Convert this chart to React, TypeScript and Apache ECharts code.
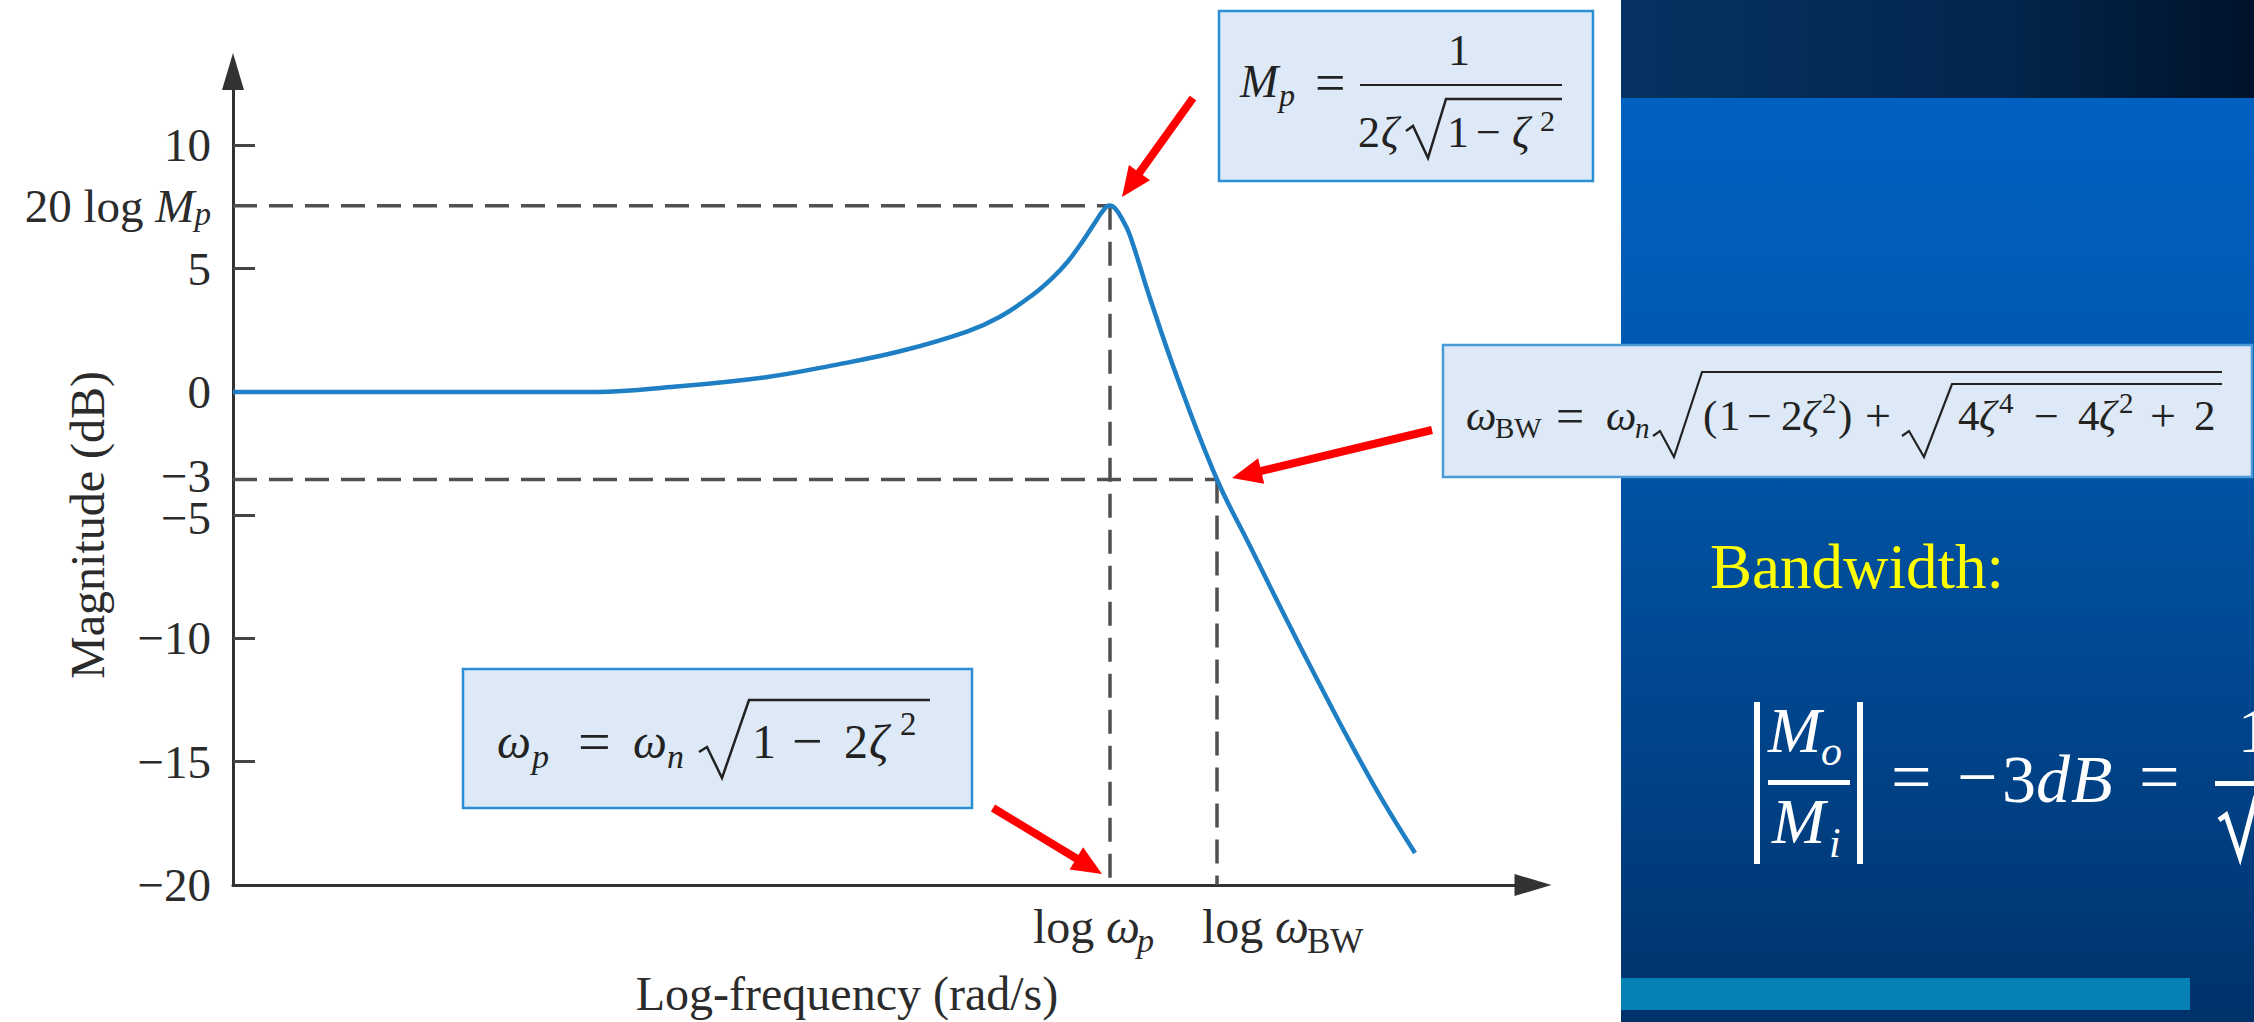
import React, { useEffect, useRef } from 'react';
import * as echarts from 'echarts';

const SERIF = "'Liberation Serif', 'Times New Roman', serif";

// ---- data ----
const LOG_FREQ = [0, 3.63, 4.43, 5.33, 6.0, 6.67, 7.34, 7.67, 8.0, 8.2, 8.34, 8.46, 8.56, 8.64, 8.7, 8.76, 8.82, 8.9, 8.97, 9.17, 9.45, 9.84, 10.17, 10.5, 10.84, 11.17, 11.5, 11.82];
const MAGNITUDE_DB = [0, 0, 0.22, 0.6, 1.08, 1.65, 2.45, 3.05, 3.95, 4.65, 5.25, 5.9, 6.5, 7.0, 7.35, 7.56, 7.45, 6.95, 6.35, 3.8, 0.5, -3.55, -6.25, -8.95, -11.65, -14.2, -16.6, -18.7];
const Y_TICKS = [-15, -10, -5, 0, 5, 10];
const Y_TICK_LABELS = [-20, -15, -10, -5, 0, 5, 10];
const PEAK_DB = 7.55; // level of 20 log Mp
const BW_DB = -3.55; // level of the drawn "-3" line
const BW_LABEL = -3;
const LOG_WP = 8.77;
const LOG_WBW = 9.84;
const X_MIN = 0;
const X_MAX = 13;
const Y_MIN = -20;
const Y_MAX = 13;

const near = (a: number, b: number) => Math.abs(a - b) < 1e-6;
const minus = (v: number) => (v < 0 ? '\u2212' + Math.abs(v) : String(v));

// text placed by baseline
const T = (text: string, x: number, base: number, size: number, italic = false, fill = '#222', scaleX = 1) => ({
  type: 'text',
  x,
  y: base - 0.34 * size,
  scaleX,
  z: 30,
  style: {
    text,
    fontSize: size,
    fontFamily: SERIF,
    fontStyle: italic ? 'italic' : 'normal',
    fill,
    align: 'left',
    verticalAlign: 'middle',
  },
});
const PL = (points: number[][], w = 2, stroke = '#222') => ({
  type: 'polyline',
  z: 30,
  shape: { points },
  style: { stroke, lineWidth: w, fill: null, lineJoin: 'miter' },
});
const R = (x: number, y: number, width: number, height: number, fill: any, stroke?: string, lw = 0, z = 10) => ({
  type: 'rect',
  z,
  shape: { x, y, width, height },
  style: stroke ? { fill, stroke, lineWidth: lw } : { fill },
});
const arrow = (x1: number, y1: number, x2: number, y2: number) => {
  const dx = x2 - x1;
  const dy = y2 - y1;
  const L = Math.hypot(dx, dy);
  const ux = dx / L;
  const uy = dy / L;
  const hl = 30;
  const hw = 13;
  const bx = x2 - ux * hl;
  const by = y2 - uy * hl;
  return [
    { type: 'line', z: 40, shape: { x1, y1, x2: bx + ux * 4, y2: by + uy * 4 }, style: { stroke: '#ff0000', lineWidth: 8 } },
    {
      type: 'polygon',
      z: 40,
      shape: { points: [[x2, y2], [bx - uy * hw, by + ux * hw], [bx + uy * hw, by - ux * hw]] },
      style: { fill: '#ff0000' },
    },
  ];
};

const BOX_FILL = '#dde9f6';
const BOX_STROKE = '#2b8fd6';
const LABEL = '#2b2b2b';

function buildGraphic(xp: number, xb: number) {
  const els: any[] = [];
  // right slide panel
  els.push(
    R(1621, 0, 633, 98, {
      type: 'linear', x: 0, y: 0, x2: 1, y2: 0,
      colorStops: [{ offset: 0, color: '#053262' }, { offset: 0.6, color: '#02264d' }, { offset: 1, color: '#00122a' }],
    }, undefined, 0, 1),
  );
  els.push(
    R(1621, 98, 633, 924, {
      type: 'linear', x: 0, y: 0, x2: 0, y2: 1,
      colorStops: [
        { offset: 0, color: '#0061c1' },
        { offset: 0.3, color: '#0058af' },
        { offset: 0.55, color: '#004b97' },
        { offset: 0.8, color: '#003e80' },
        { offset: 1, color: '#00316a' },
      ],
    }, undefined, 0, 1),
  );
  els.push(R(1621, 978, 569, 32, '#0780b5', undefined, 0, 2));

  // Bandwidth text & formula
  els.push(T('Bandwidth:', 1710, 588, 63, false, '#ffff00'));
  els.push(R(1754, 702, 6, 162, '#ffffff', undefined, 0, 30));
  els.push(R(1857, 702, 6, 162, '#ffffff', undefined, 0, 30));
  els.push(T('M', 1768, 752, 64, true, '#ffffff'));
  els.push(T('o', 1821, 765, 42, true, '#ffffff'));
  els.push(R(1768, 780, 82, 5, '#ffffff', undefined, 0, 30));
  els.push(T('M', 1772, 843, 64, true, '#ffffff'));
  els.push(T('i', 1829, 857, 42, true, '#ffffff'));
  els.push(T('=', 1891, 801, 72, false, '#ffffff'));
  els.push(T('\u2212', 1957, 801, 72, false, '#ffffff'));
  els.push(T('3', 2002, 802, 68, false, '#ffffff'));
  els.push(T('d', 2036, 802, 68, true, '#ffffff'));
  els.push(T('B', 2071, 802, 68, true, '#ffffff'));
  els.push(T('=', 2139, 801, 72, false, '#ffffff'));
  els.push(R(2215, 781, 39, 5, '#ffffff', undefined, 0, 30));
  els.push(T('1', 2238, 752, 64, false, '#ffffff'));
  els.push(PL([[2219, 820], [2226, 815], [2240, 857], [2256, 796]], 5, '#ffffff'));

  // Mp box
  els.push(R(1219, 11, 374, 170, BOX_FILL, BOX_STROKE, 2.5));
  els.push(T('M', 1240, 97, 46, true));
  els.push(T('p', 1279, 106, 32, true));
  els.push(T('=', 1315, 101, 54));
  els.push(T('1', 1448, 65, 44));
  els.push({ type: 'line', z: 30, shape: { x1: 1360, y1: 85, x2: 1562, y2: 85 }, style: { stroke: '#222', lineWidth: 2.2 } });
  els.push(T('2', 1358, 147, 44));
  els.push(T('\u03b6', 1381, 147, 44, true));
  els.push(PL([[1406, 131], [1413, 126], [1428, 158], [1446, 99], [1562, 99]], 2.5));
  els.push(T('1', 1447, 147, 44));
  els.push(T('\u2212', 1476, 147, 44));
  els.push(T('\u03b6', 1512, 147, 44, true));
  els.push(T('2', 1540, 131, 30));

  // omega_BW box
  els.push(R(1443, 345, 809, 132, BOX_FILL, '#4a9ad8', 2.5));
  els.push(T('\u03c9', 1466, 430, 43, true));
  els.push(T('BW', 1495, 438, 29));
  els.push(T('=', 1556, 433, 50));
  els.push(T('\u03c9', 1606, 430, 43, true));
  els.push(T('n', 1635, 438, 29, true));
  els.push(PL([[1653, 436], [1660, 431], [1674, 457], [1702, 372], [2222, 372]], 2.2));
  els.push(T('(', 1703, 430, 43));
  els.push(T('1', 1719, 430, 43));
  els.push(T('\u2212', 1747, 431, 44));
  els.push(T('2', 1781, 430, 43));
  els.push(T('\u03b6', 1802, 430, 43, true));
  els.push(T('2', 1822, 413, 29));
  els.push(T(')', 1838, 430, 43));
  els.push(T('+', 1865, 431, 46));
  els.push(PL([[1902, 436], [1909, 431], [1924, 457], [1952, 384], [2222, 384]], 2.2));
  els.push(T('4', 1958, 430, 43));
  els.push(T('\u03b6', 1979, 430, 43, true));
  els.push(T('4', 1999, 413, 29));
  els.push(T('\u2212', 2034, 431, 44));
  els.push(T('4', 2078, 430, 43));
  els.push(T('\u03b6', 2099, 430, 43, true));
  els.push(T('2', 2119, 413, 29));
  els.push(T('+', 2150, 431, 46));
  els.push(T('2', 2194, 430, 43));

  // omega_p box
  els.push(R(463, 669, 509, 139, BOX_FILL, BOX_STROKE, 2.5));
  els.push(T('\u03c9', 497, 758, 48, true));
  els.push(T('p', 532, 768, 34, true));
  els.push(T('=', 578, 761, 58));
  els.push(T('\u03c9', 633, 758, 48, true));
  els.push(T('n', 667, 768, 34, true));
  els.push(PL([[699, 752], [707, 747], [722, 778], [749, 700], [930, 700]], 2.5));
  els.push(T('1', 752, 758, 48));
  els.push(T('\u2212', 792, 759, 54));
  els.push(T('2', 844, 758, 48));
  els.push(T('\u03b6', 869, 758, 48, true));
  els.push(T('2', 900, 735, 33));

  // x axis labels at the two marked frequencies
  els.push(T('log ', xp - 77, 943, 48, false, LABEL));
  els.push(T('\u03c9', xp - 4, 943, 48, true, LABEL));
  els.push(T('p', xp + 27, 952, 34, true, LABEL));
  els.push(T('log ', xb - 15, 943, 48, false, LABEL));
  els.push(T('\u03c9', xb + 58, 943, 48, true, LABEL));
  els.push(T('BW', xb + 90, 953, 35, false, LABEL));

  // axis names
  els.push({
    type: 'text', x: 87, y: 525, rotation: Math.PI / 2, z: 30,
    style: { text: 'Magnitude (dB)', fontSize: 48, fontFamily: SERIF, fill: LABEL, align: 'center', verticalAlign: 'middle' },
  });
  els.push({
    type: 'text', x: 847, y: 1010 - 0.34 * 48, z: 30,
    style: { text: 'Log-frequency (rad/s)', fontSize: 48, fontFamily: SERIF, fill: LABEL, align: 'center', verticalAlign: 'middle' },
  });

  // red arrows
  els.push(...arrow(1193, 98, 1122, 197));
  els.push(...arrow(1432, 430, 1232, 478));
  els.push(...arrow(993, 808, 1102, 874));
  return els;
}

function buildOption() {
  const curve = LOG_FREQ.map((x, i) => [x, MAGNITUDE_DB[i]]);
  const dash = { color: '#505050', width: 3.5, type: [24, 12] as any };
  const guide = (data: number[][]) => ({
    type: 'line', data, symbol: 'none', silent: true, z: 1, lineStyle: dash,
  });
  return {
    animation: false,
    backgroundColor: '#ffffff',
    grid: { left: 233, right: 721, top: 71.5, bottom: 137, containLabel: false, outerBoundsMode: 'none' },
    xAxis: {
      type: 'value', min: X_MIN, max: X_MAX,
      axisLine: { show: true, onZero: false, lineStyle: { color: '#333', width: 3 }, symbol: ['none', 'triangle'], symbolSize: [22, 37] },
      axisTick: { show: false },
      splitLine: { show: false },
      axisLabel: { show: false },
    },
    yAxis: {
      type: 'value', min: Y_MIN, max: Y_MAX,
      axisLine: { show: true, onZero: false, lineStyle: { color: '#333', width: 3 }, symbol: ['none', 'triangle'], symbolSize: [22, 37] },
      axisTick: { show: true, inside: true, length: 22, customValues: Y_TICKS, lineStyle: { color: '#444', width: 3 } },
      splitLine: { show: false },
      axisLabel: {
        customValues: [...Y_TICK_LABELS, PEAK_DB, BW_DB],
        margin: 22,
        color: LABEL,
        fontFamily: SERIF,
        fontSize: 47,
        hideOverlap: false,
        formatter: (v: number) => {
          if (near(v, PEAK_DB)) return '{n|20 log }{m|M}{q|p}';
          if (near(v, BW_DB)) return '{u|' + minus(BW_LABEL) + '}';
          if (near(v, -5)) return '{d|' + minus(v) + '}';
          return minus(v);
        },
        rich: {
          n: { fontSize: 47, fontFamily: SERIF, color: LABEL, lineHeight: 50 },
          m: { fontSize: 47, fontFamily: SERIF, fontStyle: 'italic', color: LABEL, lineHeight: 50 },
          q: { fontSize: 33, fontFamily: SERIF, fontStyle: 'italic', color: LABEL, lineHeight: 30, verticalAlign: 'bottom' },
          u: { fontSize: 47, fontFamily: SERIF, color: LABEL, lineHeight: 40, padding: [0, 0, 6, 0] },
          d: { fontSize: 47, fontFamily: SERIF, color: LABEL, lineHeight: 40, padding: [6, 0, 0, 0] },
        },
      },
    },
    series: [
      guide([[X_MIN, PEAK_DB], [LOG_WP, PEAK_DB]]),
      guide([[LOG_WP, PEAK_DB], [LOG_WP, Y_MIN]]),
      guide([[X_MIN, BW_DB], [LOG_WBW, BW_DB]]),
      guide([[LOG_WBW, BW_DB], [LOG_WBW, Y_MIN]]),
      {
        type: 'line', name: 'Magnitude', data: curve, symbol: 'none', smooth: 0.4, z: 3,
        lineStyle: { color: '#1f7fc4', width: 4.5 },
      },
    ],
  };
}

export default function App() {
  const ref = useRef<HTMLDivElement>(null);
  useEffect(() => {
    if (!ref.current) return;
    const chart = echarts.init(ref.current, undefined, { renderer: 'svg' });
    chart.setOption(buildOption() as any);
    const xp = chart.convertToPixel({ xAxisIndex: 0 }, LOG_WP) as number;
    const xb = chart.convertToPixel({ xAxisIndex: 0 }, LOG_WBW) as number;
    chart.setOption({ graphic: { elements: buildGraphic(xp, xb) } } as any);
    return () => chart.dispose();
  }, []);
  return (
    <div
      ref={ref}
      style={{ position: 'absolute', left: 0, top: 0, width: 2254, height: 1022, background: '#ffffff' }}
    />
  );
}
